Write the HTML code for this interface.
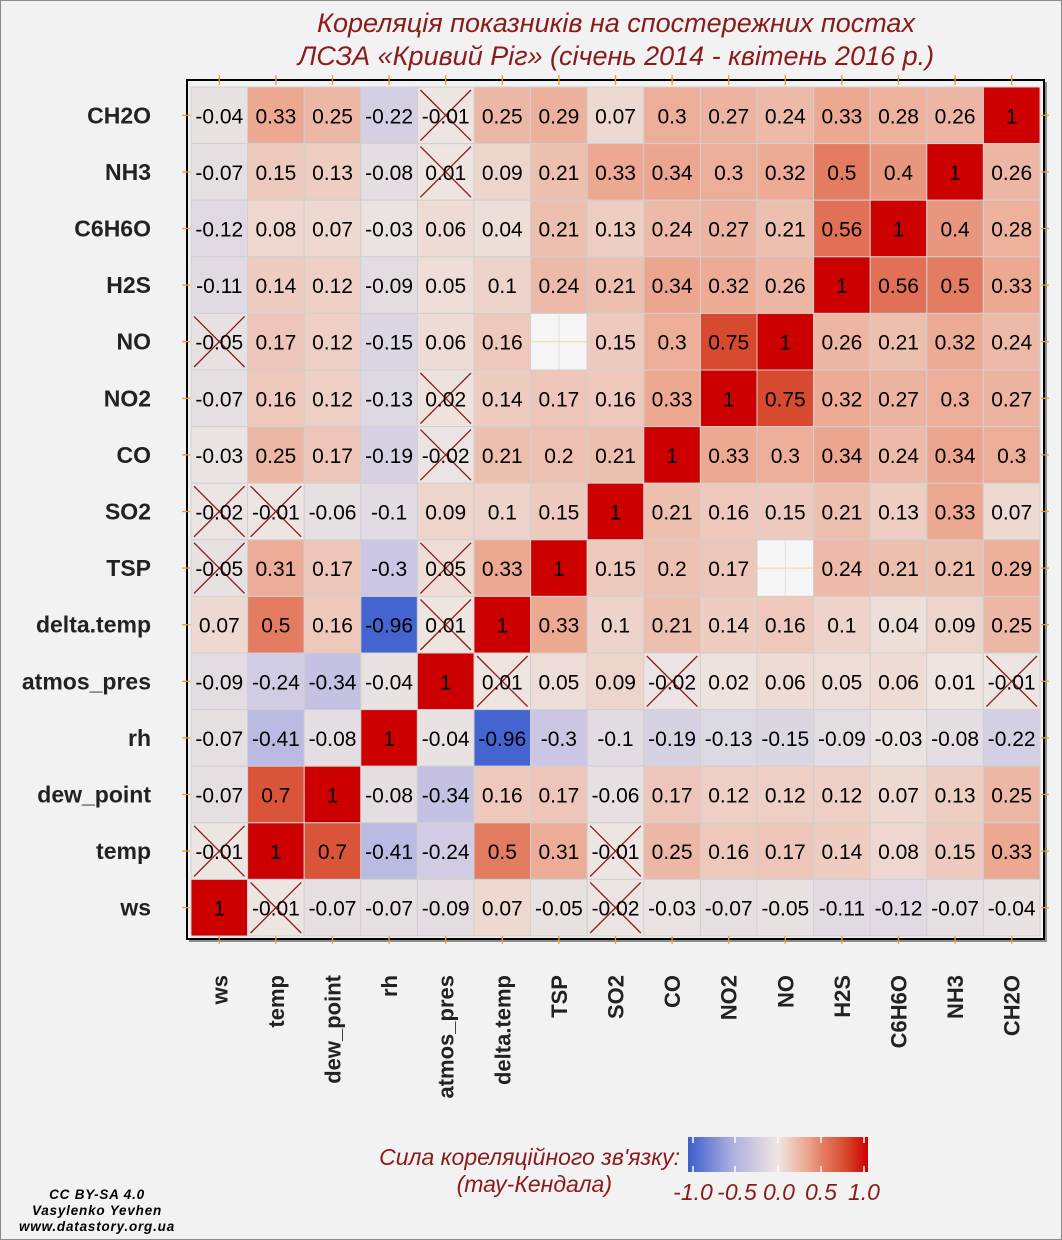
<!DOCTYPE html>
<html><head><meta charset="utf-8"><style>
html,body{margin:0;padding:0;background:#f2f2f2;}
svg{display:block;font-family:"Liberation Sans",sans-serif;}
</style></head><body>
<svg id="c" width="1062" height="1240" viewBox="0 0 1062 1240">
<rect x="0.5" y="0.5" width="1061" height="1239" fill="#f2f2f2" stroke="#8a8a8a"/>
<g fill="#8b1a1a" font-style="italic" font-size="27" text-anchor="middle">
<text x="616" y="32">Кореляція показників на спостережних постах</text>
<text x="616" y="65">ЛСЗА «Кривий Ріг» (січень 2014 - квітень 2016 р.)</text>
</g>
<rect x="189" y="82" width="858" height="860" fill="#8c8c8c"/>
<rect x="187" y="80" width="857" height="859" fill="#f2f2f2" stroke="#000" stroke-width="2"/>
<g id="cells"></g>
<g id="ticks"></g>
<g id="ylab"></g>
<g id="xlab"></g>
<defs><linearGradient id="lg" x1="0" x2="1" y1="0" y2="0">
<stop offset="0" stop-color="#3b5fcd"/><stop offset="0.25" stop-color="#aeb0e0"/><stop offset="0.5" stop-color="#eee6e2"/><stop offset="0.66" stop-color="#eda892"/><stop offset="0.75" stop-color="#e47c62"/><stop offset="0.875" stop-color="#d84a30"/><stop offset="1" stop-color="#cc0000"/></linearGradient></defs>
<g>
<g fill="#8b1a1a" font-style="italic" font-size="23" text-anchor="end">
<text x="680" y="1165">Сила кореляційного зв'язку:</text>
<text x="612" y="1192">(тау-Кендала)</text></g>
<rect x="688" y="1137" width="180" height="35" fill="url(#lg)"/>
<g stroke="#fff" stroke-width="1.5">
<line x1="693" x2="693" y1="1137" y2="1143"/><line x1="693" x2="693" y1="1166" y2="1172"/>
<line x1="735" x2="735" y1="1137" y2="1143"/><line x1="735" x2="735" y1="1166" y2="1172"/>
<line x1="778" x2="778" y1="1137" y2="1143"/><line x1="778" x2="778" y1="1166" y2="1172"/>
<line x1="821" x2="821" y1="1137" y2="1143"/><line x1="821" x2="821" y1="1166" y2="1172"/>
<line x1="864" x2="864" y1="1137" y2="1143"/><line x1="864" x2="864" y1="1166" y2="1172"/></g>
<g fill="#8b1a1a" font-style="italic" font-size="23" text-anchor="middle">
<text x="693" y="1200">-1.0</text><text x="737" y="1200">-0.5</text><text x="779" y="1200">0.0</text><text x="821" y="1200">0.5</text><text x="864" y="1200">1.0</text></g>
</g>
<g font-weight="bold" font-style="italic" font-size="13.5" letter-spacing="0.8" text-anchor="middle" fill="#000">
<text x="97" y="1199">CC BY-SA 4.0</text><text x="97" y="1215">Vasylenko Yevhen</text><text x="97" y="1231">www.datastory.org.ua</text></g>
</svg>
<script>
const xCats=["ws","temp","dew_point","rh","atmos_pres","delta.temp","TSP","SO2","CO","NO2","NO","H2S","C6H6O","NH3","CH2O"];
const yCats=["CH2O","NH3","C6H6O","H2S","NO","NO2","CO","SO2","TSP","delta.temp","atmos_pres","rh","dew_point","temp","ws"];
const vCH2O=[-0.04,0.33,0.25,-0.22,-0.01,0.25,0.29,0.07,0.3,0.27,0.24,0.33,0.28,0.26,1];
const vNH3=[-0.07,0.15,0.13,-0.08,0.01,0.09,0.21,0.33,0.34,0.3,0.32,0.5,0.4,1,0.26];
const vC6H6O=[-0.12,0.08,0.07,-0.03,0.06,0.04,0.21,0.13,0.24,0.27,0.21,0.56,1,0.4,0.28];
const vH2S=[-0.11,0.14,0.12,-0.09,0.05,0.1,0.24,0.21,0.34,0.32,0.26,1,0.56,0.5,0.33];
const vNO=[-0.05,0.17,0.12,-0.15,0.06,0.16,null,0.15,0.3,0.75,1,0.26,0.21,0.32,0.24];
const vNO2=[-0.07,0.16,0.12,-0.13,0.02,0.14,0.17,0.16,0.33,1,0.75,0.32,0.27,0.3,0.27];
const vCO=[-0.03,0.25,0.17,-0.19,-0.02,0.21,0.2,0.21,1,0.33,0.3,0.34,0.24,0.34,0.3];
const vSO2=[-0.02,-0.01,-0.06,-0.1,0.09,0.1,0.15,1,0.21,0.16,0.15,0.21,0.13,0.33,0.07];
const vTSP=[-0.05,0.31,0.17,-0.3,0.05,0.33,1,0.15,0.2,0.17,null,0.24,0.21,0.21,0.29];
const vDelta=[0.07,0.5,0.16,-0.96,0.01,1,0.33,0.1,0.21,0.14,0.16,0.1,0.04,0.09,0.25];
const vAtmos=[-0.09,-0.24,-0.34,-0.04,1,0.01,0.05,0.09,-0.02,0.02,0.06,0.05,0.06,0.01,-0.01];
const vRh=[-0.07,-0.41,-0.08,1,-0.04,-0.96,-0.3,-0.1,-0.19,-0.13,-0.15,-0.09,-0.03,-0.08,-0.22];
const vDew=[-0.07,0.7,1,-0.08,-0.34,0.16,0.17,-0.06,0.17,0.12,0.12,0.12,0.07,0.13,0.25];
const vTemp=[-0.01,1,0.7,-0.41,-0.24,0.5,0.31,-0.01,0.25,0.16,0.17,0.14,0.08,0.15,0.33];
const vWs=[1,-0.01,-0.07,-0.07,-0.09,0.07,-0.05,-0.02,-0.03,-0.07,-0.05,-0.11,-0.12,-0.07,-0.04];
const values=[vCH2O,vNH3,vC6H6O,vH2S,vNO,vNO2,vCO,vSO2,vTSP,vDelta,vAtmos,vRh,vDew,vTemp,vWs];
const insignificant=["CH2O|atmos_pres","NH3|atmos_pres","NO|ws","NO2|atmos_pres","CO|atmos_pres","SO2|ws","SO2|temp","TSP|ws","TSP|atmos_pres","delta.temp|atmos_pres","atmos_pres|delta.temp","atmos_pres|CO","atmos_pres|CH2O","temp|ws","temp|SO2","ws|temp","ws|SO2"];

const NS="http://www.w3.org/2000/svg";
const x0=191,y0=87,cw=56.6,ch=56.6;
const xPos=i=>x0+i*cw, yPos=j=>y0+j*ch;
const stopsN=[[0,[238,230,226]],[-0.3,[202,198,228]],[-0.5,[174,176,224]],[-1,[59,95,205]]];
const stopsP=[[0,[238,230,226]],[0.33,[237,168,146]],[0.5,[228,124,98]],[0.75,[216,74,48]],[1,[204,0,0]]];
function color(v){
  const s=v<0?stopsN:stopsP, a=Math.abs(v);
  for(let k=1;k<s.length;k++){const p=Math.abs(s[k-1][0]),q=Math.abs(s[k][0]);
    if(a<=q){const t=(a-p)/(q-p);const c=s[k-1][1].map((c0,m)=>Math.round(c0+(s[k][1][m]-c0)*t));return `rgb(${c})`;}}
  return `rgb(${s[s.length-1][1]})`;
}
function el(tag,attrs,parent){const e=document.createElementNS(NS,tag);for(const k in attrs)e.setAttribute(k,attrs[k]);parent.appendChild(e);return e;}
const cells=document.getElementById('cells');
yCats.forEach((yc,j)=>{xCats.forEach((xc,i)=>{
  const v=values[j][i];
  const g=el('g',{},cells);
  
  
  el('rect',{x:xPos(i),y:yPos(j),width:cw,height:ch,fill:v==null?'#f5f5f5':color(v),stroke:'#d0d0d0','stroke-width':1},g);
  if(v==null){
    el('line',{x1:xPos(i)+cw/2,x2:xPos(i)+cw/2,y1:yPos(j),y2:yPos(j)+ch,stroke:'#e0e0e0'},g);
    el('line',{x1:xPos(i),x2:xPos(i)+cw,y1:yPos(j)+ch/2,y2:yPos(j)+ch/2,stroke:'#f0d8a0'},g);
    return;
  }
  if(insignificant.includes(yc+'|'+xc)){
    el('line',{x1:xPos(i)+3,y1:yPos(j)+3,x2:xPos(i)+cw-3,y2:yPos(j)+ch-3,stroke:'#8b1a1a','stroke-width':1.3},g);
    el('line',{x1:xPos(i)+cw-3,y1:yPos(j)+3,x2:xPos(i)+3,y2:yPos(j)+ch-3,stroke:'#8b1a1a','stroke-width':1.3},g);
  }
  const t=el('text',{x:xPos(i)+cw/2,y:yPos(j)+ch/2+8,'text-anchor':'middle','font-size':21,fill:'#000'},g);
  t.textContent=String(v);
});});
const ticks=document.getElementById('ticks');
for(let k=0;k<15;k++){
  const cx=xPos(k)+cw/2, cy=yPos(k)+ch/2;
  [[182,cy,190,cy],[1041,cy,1049,cy],[cx,75,cx,85],[cx,936,cx,944]].forEach(a=>el('line',{x1:a[0],y1:a[1],x2:a[2],y2:a[3],stroke:'#f0a020','stroke-width':1.3},ticks));
}
const ylab=document.getElementById('ylab');
yCats.forEach((c,j)=>{const t=el('text',{x:151,y:yPos(j)+ch/2+8,'text-anchor':'end','font-size':23,'font-weight':'bold',fill:'#222'},ylab);
  
  
  t.textContent=c;});
const xlab=document.getElementById('xlab');
xCats.forEach((c,i)=>{const cx=xPos(i)+cw/2+8;
  const t=el('text',{x:cx,y:975,transform:`rotate(-90 ${cx} 975)`,'text-anchor':'end','font-size':22,'font-weight':'bold',fill:'#222'},xlab);
  
  
  t.textContent=c;});
</script>
</body></html>
